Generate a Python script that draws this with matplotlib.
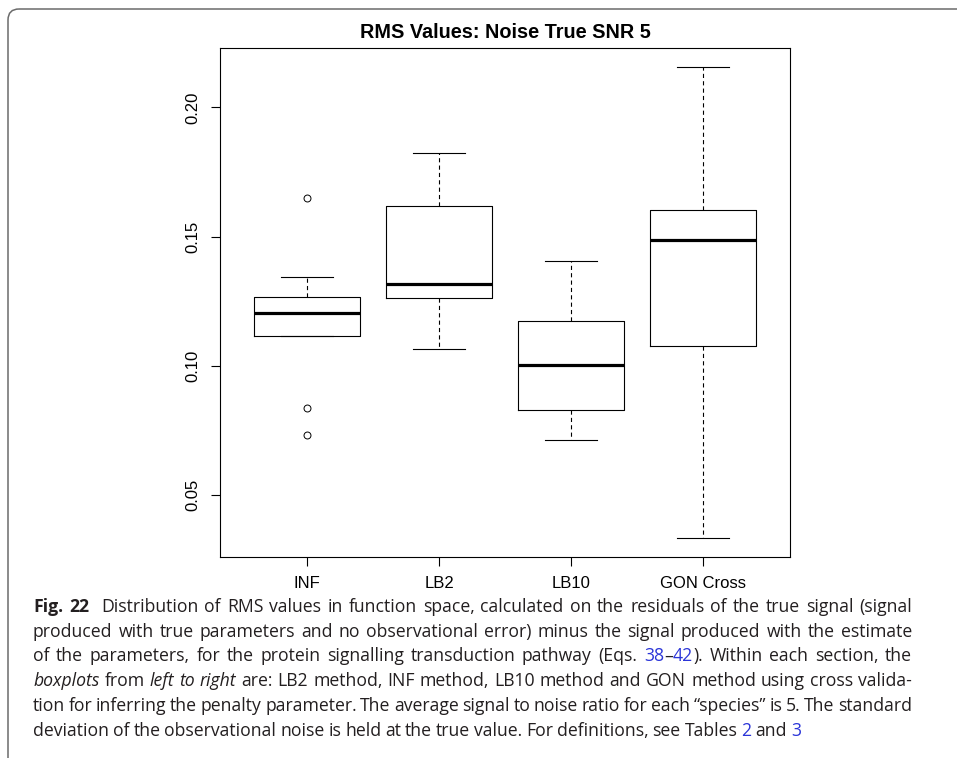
import matplotlib.pyplot as plt
import matplotlib as mpl
from matplotlib.patches import FancyBboxPatch

mpl.rcParams["font.family"] = "Liberation Sans"
mpl.rcParams["lines.scale_dashes"] = False

## box statistics
labels = ["INF", "LB2", "LB10", "GON Cross"]
whislo = [0.1115, 0.1064, 0.0712, 0.0333]
q1 = [0.1115, 0.1264, 0.0828, 0.1075]
med = [0.1203, 0.1316, 0.1002, 0.1486]
q3 = [0.1267, 0.1618, 0.1174, 0.1602]
whishi = [0.1344, 0.1824, 0.1406, 0.2157]
fliers = [[0.1649, 0.0836, 0.0733], [], [], []]

yticks = [0.05, 0.10, 0.15, 0.20]
ytick_labels = ["0.05", "0.10", "0.15", "0.20"]
title = "RMS Values: Noise True SNR 5"

## caption, as runs of (text, style)
caption = [
    [("Fig. 22", "b"), ("  Distribution of RMS values in function space, calculated on the residuals of the true signal (signal", "n")],
    [("produced with true parameters and no observational error) minus the signal produced with the estimate", "n")],
    [("of the parameters, for the protein signalling transduction pathway (Eqs. ", "n"), ("38", "l"), ("\u2013", "n"),
     ("42", "l"), ("). Within each section, the", "n")],
    [("boxplots", "i"), (" from ", "n"), ("left to right", "i"),
     (" are: LB2 method, INF method, LB10 method and GON method using cross valida-", "n")],
    [("tion for inferring the penalty parameter. The average signal to noise ratio for each \u201cspecies\u201d is 5. The standard", "n")],
    [("deviation of the observational noise is held at the true value. For definitions, see Tables ", "n"), ("2", "l"),
     (" and ", "n"), ("3", "l")],
]

fig = plt.figure(figsize=(9.57, 7.58), dpi=100)

## boxplot
ax = fig.add_axes([220 / 957, 1 - 557 / 758, 570 / 957, 509 / 758])
stats = []
for i in range(len(labels)):
    stats.append(dict(label=labels[i], whislo=whislo[i], q1=q1[i], med=med[i],
                      q3=q3[i], whishi=whishi[i], fliers=fliers[i]))
ax.bxp(stats, positions=[1, 2, 3, 4], widths=0.8, capwidths=0.4,
       boxprops=dict(color="black", lw=0.8),
       medianprops=dict(color="black", lw=2.3, solid_capstyle="butt"),
       whiskerprops=dict(color="black", lw=0.8, linestyle=(0, (3, 2.3))),
       capprops=dict(color="black", lw=0.8),
       flierprops=dict(marker="o", markerfacecolor="none", markeredgecolor="black",
                       markersize=5, markeredgewidth=0.7))
ax.set_xlim(0.34, 4.66)
ax.set_ylim(0.026, 0.223)
ax.set_yticks(yticks)
ax.set_yticklabels(ytick_labels, rotation=90, va="center")
ax.tick_params(axis="both", length=6.5, width=0.8, labelsize=12, color="black")
ax.tick_params(axis="y", pad=7.5)
ax.tick_params(axis="x", pad=7)
for s in ax.spines.values():
    s.set_linewidth(0.8)

fig.text(505 / 957, 1 - 32 / 758, title, ha="center", va="center",
         fontsize=14.3, fontweight="bold")

## overlay in pixel units for frame and caption
ov = fig.add_axes([0, 0, 1, 1])
ov.set_xlim(0, 957)
ov.set_ylim(758, 0)
ov.axis("off")
ov.add_patch(FancyBboxPatch((8, 9), 1000, 770, boxstyle="round,pad=0,rounding_size=11",
                            fill=False, ec="#6b6b6b", lw=1.1))

cap_font = "Open Sans"
styles = {
    "n": dict(color="#231f20"),
    "b": dict(color="#231f20", fontweight="bold"),
    "i": dict(color="#231f20", fontstyle="italic"),
    "l": dict(color="#2b35d8"),
}
x0, x1 = 33, 912
y0, dy = 612, 24.7
renderer = fig.canvas.get_renderer()


def split_words(runs):
    words, cur, gaps, sp = [], [], [], 0
    for txt, st in runs:
        parts = txt.split(" ")
        for k, p in enumerate(parts):
            if k > 0:
                sp += 1
                if cur:
                    words.append(cur)
                    cur = []
            if p:
                if not cur and words:
                    gaps.append(sp)
                sp = 0
                cur.append((p, st))
    if cur:
        words.append(cur)
    return words, gaps


def measure(txt, st, fs):
    t = ov.text(0, 0, txt, fontsize=fs, family=cap_font, **styles[st])
    w = t.get_window_extent(renderer).width
    t.remove()
    return w


## pick a size so that the justified lines fit (spaces may shrink a little)
fs0 = 10.0
sp_w = measure("x x", "n", fs0) - measure("xx", "n", fs0)
ratio = 0
for runs in caption[:-1]:
    words, gaps = split_words(runs)
    nat = sum(measure(p, st, fs0) for w in words for p, st in w) + sum(gaps) * sp_w * 0.75
    ratio = max(ratio, nat / (x1 - x0))
fs = fs0 / ratio
sp_w = measure("x x", "n", fs) - measure("xx", "n", fs)

for li, runs in enumerate(caption):
    words, gaps = split_words(runs)
    widths = [[measure(p, st, fs) for p, st in w] for w in words]
    total = sum(sum(w) for w in widths)
    if li < len(caption) - 1:
        unit = (x1 - x0 - total) / sum(gaps)
    else:
        unit = sp_w * 0.85
    x = x0
    y = y0 + li * dy
    for wi, w in enumerate(words):
        if wi > 0:
            x += gaps[wi - 1] * unit
        for (p, st), pw in zip(w, widths[wi]):
            ov.text(x, y, p, fontsize=fs, family=cap_font, va="baseline", ha="left", **styles[st])
            x += pw

plt.savefig("out.png", dpi=100)
